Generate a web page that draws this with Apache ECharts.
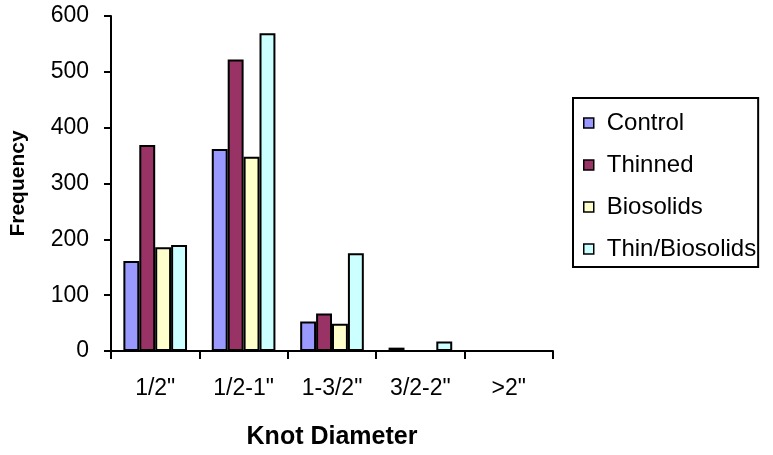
<!DOCTYPE html>
<html>
<head>
<meta charset="utf-8">
<script src="https://cdn.jsdelivr.net/npm/echarts@6/dist/echarts.min.js"></script>
<style>
  html, body { margin: 0; padding: 0; background: #fff; }
  #chart { width: 773px; height: 455px; }
</style>
</head>
<body>
<div id="chart"></div>
<script>
var categories = ['1/2"', '1/2-1"', '1-3/2"', '3/2-2"', '>2"'];
var control = [161, 362, 53, 6, 0];
var thinned = [369, 522, 67, 0, 0];
var biosolids = [186, 348, 49, 0, 0];
var thinBiosolids = [190, 569, 175, 17, 0];

var font = 'Liberation Sans, Arial, sans-serif';

function barSeries(name, data, color) {
    return {
        name: name,
        type: 'bar',
        data: data,
        barGap: '0%',
        barCategoryGap: '28%',
        itemStyle: { color: color, borderColor: '#000', borderWidth: 2 }
    };
}

var myChart = echarts.init(document.getElementById('chart'));
var option = {
    animation: false,
    textStyle: { fontFamily: font, color: '#000' },
    grid: { left: 106, right: 220, top: 16, bottom: 103 },
    legend: {
        orient: 'vertical',
        left: 573,
        top: 98,
        padding: [13, 2, 6, 10],
        itemGap: 18,
        itemWidth: 10,
        itemHeight: 10,
        icon: 'rect',
        borderColor: '#000',
        borderWidth: 2,
        itemStyle: { borderColor: '#000', borderWidth: 1.5 },
        textStyle: { fontFamily: font, fontSize: 24, lineHeight: 22, color: '#000', padding: [0, 0, 0, 8] },
        data: ['Control', 'Thinned', 'Biosolids', 'Thin/Biosolids']
    },
    xAxis: {
        type: 'category',
        data: categories,
        name: 'Knot Diameter',
        nameLocation: 'middle',
        nameGap: 74,
        nameTextStyle: { fontFamily: font, fontSize: 25, fontWeight: 'bold', color: '#000' },
        axisLine: { lineStyle: { color: '#000', width: 2 } },
        axisTick: { show: true, length: 8, lineStyle: { color: '#000', width: 2 } },
        axisLabel: { fontFamily: font, fontSize: 23, color: '#000', margin: 26 }
    },
    yAxis: {
        type: 'value',
        min: 0,
        max: 600,
        interval: 100,
        name: 'Frequency',
        nameLocation: 'middle',
        nameGap: 82,
        nameTextStyle: { fontFamily: font, fontSize: 21, fontWeight: 'bold', color: '#000' },
        splitLine: { show: false },
        axisLine: { show: true, lineStyle: { color: '#000', width: 2 } },
        axisTick: { show: true, length: 7, lineStyle: { color: '#000', width: 2 } },
        axisLabel: { fontFamily: font, fontSize: 23, color: '#000', margin: 22 }
    },
    series: [
        barSeries('Control', control, '#9999FF'),
        barSeries('Thinned', thinned, '#993366'),
        barSeries('Biosolids', biosolids, '#FFFFCC'),
        barSeries('Thin/Biosolids', thinBiosolids, '#CCFFFF')
    ]
};
myChart.setOption(option);
</script>
</body>
</html>
